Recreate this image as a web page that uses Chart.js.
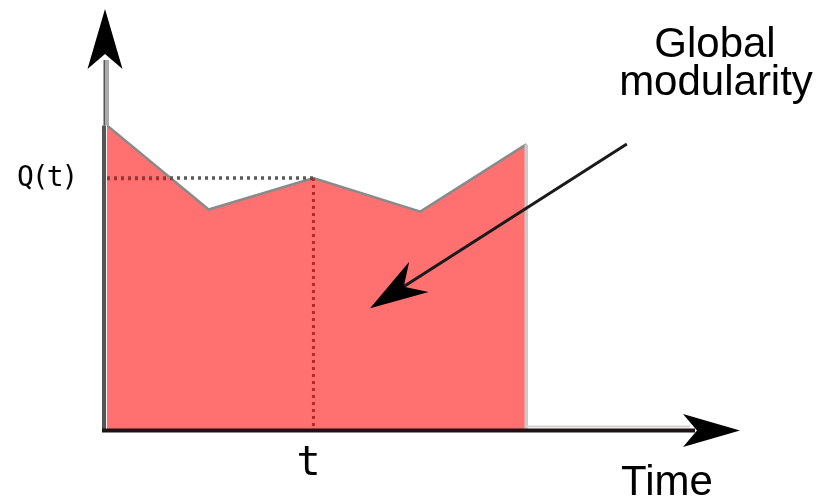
<!DOCTYPE html>
<html>
<head>
<meta charset="utf-8">
<script src="https://cdn.jsdelivr.net/npm/chart.js@4/dist/chart.umd.min.js"></script>
<style>
  html, body { margin: 0; padding: 0; background: #fff; }
  #c { display: block; }
</style>
</head>
<body>
<canvas id="c" width="818" height="496"></canvas>
<script>
// data
const times = [0, 0.97, 1.97, 2.99, 4.0];
const modularity = [7.25, 5.25, 6.0, 5.2, 6.8];
const markIndex = 2;          // the point labelled t / Q(t)
const tickLabelX = 't';
const tickLabelY = 'Q(t)';
const axisLabelX = 'Time';
const noteLines = ['Global', 'modularity'];
// annotation arrow, in data units (from, to)
const noteFrom = [4.96, 6.81];
const noteTo = [2.51, 2.9];

const points = times.map((t, i) => ({ x: t, y: modularity[i] }));
points.push({ x: times[times.length - 1], y: 0 }); // close the area down to the axis

function arrowHead(ctx, tipX, tipY, ang, len, half, notch) {
  const c = Math.cos(ang), s = Math.sin(ang);
  const px = -s, py = c;
  ctx.beginPath();
  ctx.moveTo(tipX, tipY);
  ctx.lineTo(tipX - c * len + px * half, tipY - s * len + py * half);
  ctx.lineTo(tipX - c * notch, tipY - s * notch);
  ctx.lineTo(tipX - c * len - px * half, tipY - s * len - py * half);
  ctx.closePath();
  ctx.fill();
}

const decor = {
  id: 'decor',
  afterDatasetsDraw(chart) {
    const { ctx, chartArea: a, scales: { x, y } } = chart;
    const x0 = x.getPixelForValue(0), y0 = y.getPixelForValue(0);
    const tx = x.getPixelForValue(times[markIndex]);
    const qy = y.getPixelForValue(modularity[markIndex]);
    const topY = y.getPixelForValue(modularity[0]);
    ctx.save();

    // dotted guides, grey over white
    ctx.setLineDash([3, 4]);
    ctx.lineWidth = 3.5;
    ctx.strokeStyle = '#5a5a5a';
    ctx.beginPath();
    ctx.moveTo(x0, qy); ctx.lineTo(tx, qy);
    ctx.stroke();
    // dark red where they cross the filled area
    ctx.save();
    ctx.beginPath();
    points.forEach((p, i) => {
      const px = x.getPixelForValue(p.x), py = y.getPixelForValue(p.y);
      i ? ctx.lineTo(px, py) : ctx.moveTo(px, py);
    });
    ctx.lineTo(x0, y0);
    ctx.closePath();
    ctx.clip();
    ctx.strokeStyle = '#b02a2a';
    ctx.beginPath();
    ctx.moveTo(x0, qy + 0.5); ctx.lineTo(tx, qy + 0.5);
    ctx.stroke();
    ctx.lineWidth = 3;
    ctx.beginPath();
    ctx.moveTo(tx, qy); ctx.lineTo(tx, y0);
    ctx.stroke();
    ctx.restore();
    ctx.setLineDash([]);

    // y axis
    ctx.strokeStyle = '#aaaaaa';
    ctx.lineWidth = 3;
    ctx.beginPath();
    ctx.moveTo(x0 + 0.5, topY); ctx.lineTo(x0 + 0.5, a.top + 50);
    ctx.stroke();
    ctx.strokeStyle = '#555555';
    ctx.lineWidth = 4;
    ctx.beginPath();
    ctx.moveTo(x0 - 3, y0); ctx.lineTo(x0 - 3, topY);
    ctx.stroke();
    ctx.lineWidth = 2;
    ctx.beginPath();
    ctx.moveTo(x0 - 2.5, topY); ctx.lineTo(x0 - 2.5, a.top + 50);
    ctx.stroke();
    ctx.fillStyle = '#000';
    arrowHead(ctx, x0 - 2, a.top - 1, -Math.PI / 2, 60, 17.5, 45);

    // x axis
    const lastX = x.getPixelForValue(times[times.length - 1]);
    ctx.strokeStyle = '#d2d2d2';
    ctx.lineWidth = 2;
    ctx.beginPath();
    ctx.moveTo(lastX, y0 - 3.5); ctx.lineTo(a.right - 50, y0 - 3.5);
    ctx.stroke();
    ctx.strokeStyle = '#1c1414';
    ctx.lineWidth = 4;
    ctx.beginPath();
    ctx.moveTo(x0 - 5, y0 + 0.5); ctx.lineTo(a.right - 45, y0 + 0.5);
    ctx.stroke();
    arrowHead(ctx, a.right, y0 + 0.5, 0, 57, 16.5, 43);

    // annotation arrow
    const fx = x.getPixelForValue(noteFrom[0]), fy = y.getPixelForValue(noteFrom[1]);
    const ex = x.getPixelForValue(noteTo[0]), ey = y.getPixelForValue(noteTo[1]);
    const ang = Math.atan2(ey - fy, ex - fx);
    ctx.strokeStyle = '#1a1a1a';
    ctx.lineWidth = 3;
    ctx.beginPath();
    ctx.moveTo(fx, fy);
    ctx.lineTo(ex - Math.cos(ang) * 35, ey - Math.sin(ang) * 35);
    ctx.stroke();
    arrowHead(ctx, ex, ey, ang, 58, 18, 40);

    // texts
    ctx.fillStyle = '#000';
    ctx.textAlign = 'left';
    ctx.textBaseline = 'alphabetic';
    ctx.font = '28px "DejaVu Sans Mono"';
    ctx.letterSpacing = '-2px';
    ctx.fillText(tickLabelY, 17, qy + 8);
    ctx.letterSpacing = '0px';
    ctx.textAlign = 'center';
    ctx.font = '40px "DejaVu Sans Mono"';
    ctx.fillText(tickLabelX, tx - 5, y0 + 45);
    ctx.font = '42px "Liberation Sans", Arial, sans-serif';
    ctx.fillText(axisLabelX, 667, 495);
    ctx.fillText(noteLines[0], 715, 57);
    ctx.fillText(noteLines[1], 716, 95);
    ctx.restore();
  }
};

new Chart(document.getElementById('c'), {
  type: 'line',
  data: {
    datasets: [{
      data: points,
      fill: 'origin',
      backgroundColor: '#ff7070',
      borderColor: '#8a8a8a',
      borderWidth: 2.5,
      pointRadius: 0,
      tension: 0,
      segment: {
        borderColor: ctx => ctx.p1DataIndex === points.length - 1 ? '#c8c8c8' : undefined,
        borderWidth: ctx => ctx.p1DataIndex === points.length - 1 ? 3.5 : undefined
      }
    }]
  },
  options: {
    responsive: false,
    animation: false,
    layout: { padding: { left: 107, right: 78, top: 10, bottom: 66 } },
    plugins: { legend: { display: false }, tooltip: { enabled: false } },
    scales: {
      x: { type: 'linear', min: 0, max: 6.04, display: false },
      y: { type: 'linear', min: 0, max: 10, display: false }
    }
  },
  plugins: [decor]
});
</script>
</body>
</html>
